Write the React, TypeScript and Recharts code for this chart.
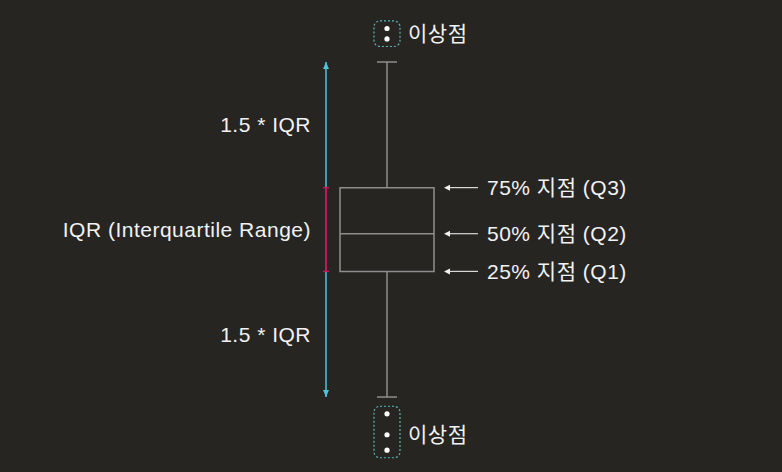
import {
  ComposedChart,
  XAxis,
  YAxis,
  Scatter,
  ReferenceLine,
  ReferenceArea,
} from 'recharts';

// box plot statistics (value units)
const quartileValues = [60, 49, 40]; // Q3, Q2, Q1
const quartileLabels = ['75% 지점 (Q3)', '50% 지점 (Q2)', '25% 지점 (Q1)'];
const whiskerValues = [90, 10]; // Q3 + 1.5*IQR, Q1 - 1.5*IQR
const upperOutliers = [98, 95.5];
const lowerOutliers = [6, 1, -2.7];
const outlierLabel = '이상점';
const rangeLabels = ['1.5 * IQR', 'IQR (Interquartile Range)', '1.5 * IQR'];

const W = 782;
const H = 472;
const BG = '#262522';
const GRID = '#8e8e8e';
const CYAN = '#4fc3d9';
const RED = '#c2185b';
const TEXT = '#f2f2f2';
const FONT = '"Liberation Sans", Arial, "Noto Sans CJK KR", sans-serif';
const FS = 21;
const LS = 0.5;

// horizontal layout (x axis is a plain layout axis, 0..W)
const BOX_X = 387;
const BOX_HALF = 47;
const CAP_HALF = 10;
const RANGE_X = 326;
const ARROW_X = 444;
const OUTLIER_PAD = 1.8;

const [q3, q2, q1] = quartileValues;
const [upper, lower] = whiskerValues;

const quartileData = quartileValues.map((v, i) => ({ x: ARROW_X, y: v, label: quartileLabels[i] }));
const outlierData = [...upperOutliers, ...lowerOutliers].map((v) => ({ x: BOX_X, y: v }));
const rangeData = [
  { x: RANGE_X - 15, y: (q3 + upper) / 2, label: rangeLabels[0] },
  { x: RANGE_X - 15, y: (q1 + q3) / 2, label: rangeLabels[1] },
  { x: RANGE_X - 15, y: (q1 + lower) / 2, label: rangeLabels[2] },
];
const outlierTextData = [
  { x: BOX_X + 21, y: (upperOutliers[0] + upperOutliers[1]) / 2, label: outlierLabel },
  { x: BOX_X + 21, y: lowerOutliers[1], label: outlierLabel },
];
const arrowHeads = [
  { x: RANGE_X, y: upper, dir: -1 },
  { x: RANGE_X, y: lower, dir: 1 },
];

const QuartileShape = (props: any) => {
  const { cx, cy, payload } = props;
  return (
    <g>
      <line x1={cx + 2} y1={cy} x2={cx + 34} y2={cy} stroke="#d8d8d8" strokeWidth={1.2} />
      <polygon points={`${cx},${cy} ${cx + 6},${cy - 3} ${cx + 6},${cy + 3}`} fill="#f2f2f2" />
      <text x={cx + 43} y={cy} dy="0.36em" fill={TEXT} fontSize={FS} letterSpacing={LS} fontFamily={FONT}>
        {payload.label}
      </text>
    </g>
  );
};

const EndText = (props: any) => {
  const { cx, cy, payload } = props;
  return (
    <text x={cx} y={cy} dy="0.36em" textAnchor="end" fill={TEXT} fontSize={FS} letterSpacing={LS} fontFamily={FONT}>
      {payload.label}
    </text>
  );
};

const StartText = (props: any) => {
  const { cx, cy, payload } = props;
  return (
    <text x={cx} y={cy} dy="0.36em" fill={TEXT} fontSize={FS} letterSpacing={LS} fontFamily={FONT}>
      {payload.label}
    </text>
  );
};

const Dot = (props: any) => {
  const { cx, cy } = props;
  return <circle cx={cx} cy={cy} r={2.6} fill="#ffffff" />;
};

const ArrowHead = (props: any) => {
  const { cx, cy, payload } = props;
  const d = payload.dir;
  return (
    <polygon
      points={`${cx},${cy} ${cx - 3},${cy - d * 7} ${cx + 3},${cy - d * 7}`}
      fill={CYAN}
    />
  );
};

const DashedBox = (props: any) => {
  const { x, y, width, height } = props;
  return (
    <rect
      x={x}
      y={y}
      width={width}
      height={height}
      rx={6}
      fill="none"
      stroke="#5fb3b8"
      strokeWidth={1.2}
      strokeDasharray="2 2"
    />
  );
};

export default function App() {
  return (
    <div style={{ position: 'absolute', left: 0, top: 0, width: W, height: H, background: BG }}>
      <ComposedChart width={W} height={H} margin={{ top: 0, right: 0, bottom: 0, left: 0 }}>
        <XAxis type="number" dataKey="x" domain={[0, W]} hide allowDataOverflow />
        <YAxis type="number" dataKey="y" domain={[-7.9, 104.8]} hide allowDataOverflow />

        {/* range indicator */}
        <ReferenceLine segment={[{ x: RANGE_X, y: upper }, { x: RANGE_X, y: lower }]} stroke={CYAN} strokeWidth={1.5} />
        <ReferenceLine segment={[{ x: RANGE_X, y: q3 }, { x: RANGE_X, y: q1 }]} stroke={RED} strokeWidth={2} />
        <ReferenceLine segment={[{ x: RANGE_X - 3, y: q3 }, { x: RANGE_X + 3, y: q3 }]} stroke={RED} strokeWidth={1.5} />
        <ReferenceLine segment={[{ x: RANGE_X - 3, y: q1 }, { x: RANGE_X + 3, y: q1 }]} stroke={RED} strokeWidth={1.5} />
        <Scatter data={arrowHeads} dataKey="y" shape={ArrowHead} isAnimationActive={false} />

        {/* whiskers */}
        <ReferenceLine segment={[{ x: BOX_X, y: q3 }, { x: BOX_X, y: upper }]} stroke={GRID} strokeWidth={1.5} />
        <ReferenceLine segment={[{ x: BOX_X, y: q1 }, { x: BOX_X, y: lower }]} stroke={GRID} strokeWidth={1.5} />
        <ReferenceLine segment={[{ x: BOX_X - CAP_HALF, y: upper }, { x: BOX_X + CAP_HALF, y: upper }]} stroke={GRID} strokeWidth={1.5} />
        <ReferenceLine segment={[{ x: BOX_X - CAP_HALF, y: lower }, { x: BOX_X + CAP_HALF, y: lower }]} stroke={GRID} strokeWidth={1.5} />

        {/* box */}
        <ReferenceArea
          x1={BOX_X - BOX_HALF}
          x2={BOX_X + BOX_HALF}
          y1={q1}
          y2={q3}
          fill={BG}
          fillOpacity={1}
          stroke={GRID}
          strokeWidth={1.5}
        />
        <ReferenceLine segment={[{ x: BOX_X - BOX_HALF, y: q2 }, { x: BOX_X + BOX_HALF, y: q2 }]} stroke={GRID} strokeWidth={1.5} />

        {/* outliers */}
        <ReferenceArea
          x1={BOX_X - 13}
          x2={BOX_X + 13}
          y1={Math.min(...upperOutliers) - OUTLIER_PAD}
          y2={Math.max(...upperOutliers) + OUTLIER_PAD}
          shape={DashedBox}
        />
        <ReferenceArea
          x1={BOX_X - 13}
          x2={BOX_X + 13}
          y1={Math.min(...lowerOutliers) - OUTLIER_PAD}
          y2={Math.max(...lowerOutliers) + OUTLIER_PAD}
          shape={DashedBox}
        />
        <Scatter data={outlierData} dataKey="y" shape={Dot} isAnimationActive={false} />

        {/* labels */}
        <Scatter data={quartileData} dataKey="y" shape={QuartileShape} isAnimationActive={false} />
        <Scatter data={rangeData} dataKey="y" shape={EndText} isAnimationActive={false} />
        <Scatter data={outlierTextData} dataKey="y" shape={StartText} isAnimationActive={false} />
      </ComposedChart>
    </div>
  );
}
